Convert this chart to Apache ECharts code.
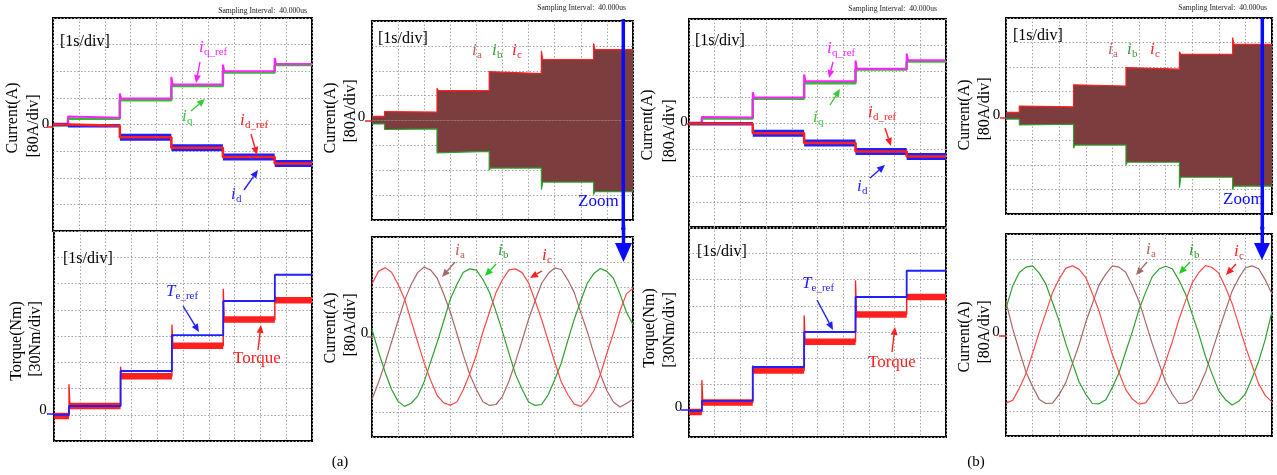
<!DOCTYPE html>
<html><head><meta charset="utf-8">
<script src="https://cdn.jsdelivr.net/npm/echarts@6/dist/echarts.min.js"></script>
<style>html,body{margin:0;padding:0;background:#fff}#c{width:1277px;height:475px}</style>
</head><body><div id="c"></div>
<script>
// ---------------- DATA ----------------
// (a) dq currents [A], step times [s]
const stepTimesA = [0, 0.58, 2.58, 4.57, 6.56, 8.56, 10];
const iqRefA  = [0, 20, 78, 120, 160, 182];
const iqA     = [-2, 17, 73, 116, 156, 179];
const iqPeakA = [0, 24, 93, 143, 180, 200];
const idRefA  = [0, -4, -38, -70, -98, -117];
const idA     = [0, -4, -38, -70, -98, -117];
// (a) torque [Nm]
const teRefA  = [0, 10, 50, 91, 130, 160];
const torqueA = [-1.5, 10, 44, 79, 109, 131];
const torquePeakA = [0, 35, 55, 103, 144, 136];
// (a) phase current envelope [A]
const envTimesA = [0, 0.48, 2.49, 4.49, 6.49, 8.49, 10];
const envUpA     = [13, 27, 96, 151, 196, 228];
const envUpPeakA = [13, 29, 104, 157, 224, 248];
const envLoA     = [-11, -27, -99, -153, -198, -229];
const envLoPeakA = [-11, -29, -104, -160, -222, -238];
// (b) dq currents
const stepTimesB = [0, 0.5, 2.48, 4.48, 6.48, 8.47, 10];
const iqRefB  = [0, 18, 80, 129, 168, 194];
const iqB     = [-2, 15, 76, 123, 165, 190];
const iqPeakB = [0, 20, 96, 150, 193, 214];
const idRefB  = [0, -1, -30, -60, -86, -101];
const idB     = [0, -1, -30, -60, -86, -101];
// (b) torque
const teRefB  = [0, 11.4, 50, 90, 130, 160];
const torqueB = [-1.5, 9.5, 46, 79, 110, 130];
const torquePeakB = [0, 35, 52, 109, 149, 133];
// (b) envelope
const envTimesB = [0, 0.5, 2.54, 4.51, 6.52, 8.52, 10];
const envUpB     = [12, 30, 98, 153, 201, 234];
const envUpPeakB = [12, 32, 102, 158, 210, 256];
const envLoB     = [-10, -27, -95, -151, -200, -229];
const envLoPeakB = [-10, -29, -105, -160, -234, -240];
// zoomed phase currents (time in div)
const sineT = [0,0.25,0.5,0.75,1,1.25,1.5,1.75,2,2.25,2.5,2.75,3,3.25,3.5,3.75,4,4.25,4.5,4.75,5,5.25,5.5,5.75,6,6.25,6.5,6.75,7,7.25,7.5,7.75,8,8.25,8.5,8.75,9,9.25,9.5,9.75,10];
const iaA = [-199,-145,-84,-16,52,118,168,206,224,214,188,137,80,12,-58,-121,-168,-207,-219,-216,-190,-141,-79,-12,57,116,172,203,221,216,183,142,78,17,-53,-119,-172,-208,-224,-213,-199];
const ibA = [24,-48,-112,-168,-206,-222,-212,-189,-143,-79,-16,52,121,168,207,218,214,184,143,82,17,-53,-120,-167,-208,-219,-216,-185,-137,-84,-12,57,116,172,203,219,210,188,138,79,40];
const icA = [170,210,222,207,168,121,52,-16,-83,-139,-188,-211,-218,-208,-168,-117,-57,16,79,142,184,215,218,206,173,116,56,-12,-80,-143,-184,-215,-222,-203,-172,-120,-52,12,84,138,155];
const iaB = [105,20,-50,-117,-163,-204,-217,-216,-188,-151,-90,-30,41,100,159,193,219,215,199,156,107,40,-28,-89,-149,-187,-217,-216,-205,-166,-119,-52,14,77,139,180,213,219,210,174,130];
const ibB = [85,155,198,215,219,196,161,103,44,-28,-89,-149,-188,-217,-218,-205,-166,-119,-53,10,81,135,185,209,218,210,174,130,66,3,-68,-124,-177,-205,-222,-210,-186,-137,-83,-13,75];
const icB = [-215,-207,-169,-123,-58,9,71,135,178,212,219,208,182,131,75,5,-62,-119,-173,-203,-219,-215,-185,-145,-84,-22,49,108,165,198,220,214,196,151,100,32,-36,-96,-155,-192,-212];

// ---------------- STYLE ----------------
const FONT = "'Liberation Serif','Times New Roman',serif";
const MAG='#ff22ff', GRN='#2fbf2f', RED='#ff1f1f', BLU='#1f1fff';
const IA='#a86868', IB='#2f9f2f', IC='#ff4a4a', IALBL='#c0605a', BROWN='#7b3d3d';

const grids = [
  {left:53, top:18, width:259, height:213},
  {left:54, top:231, width:258, height:210},
  {left:372, top:21, width:261, height:199},
  {left:372, top:237, width:261, height:200},
  {left:689, top:19, width:257, height:209},
  {left:689, top:227, width:257, height:210},
  {left:1006, top:18, width:266, height:196},
  {left:1006, top:234, width:266, height:202}
];
const yr = [[-320,320,80],[-30,210,30],[-320,320,80],[-320,320,80],[-320,320,80],[-30,210,30],[-320,320,80],[-320,320,80]];
const split = {show:true, lineStyle:{color:'#a4a4a4', type:[1.5,2], width:1}};

function steps(times, levels, over){
  const p=[];
  for(let i=0;i<levels.length;i++){
    const a=times[i], b=times[i+1];
    if(over && i>0 && over[i]!==levels[i]){ p.push([a, over[i]]); p.push([a+0.05, levels[i]]); }
    else p.push([a, levels[i]]);
    p.push([b, levels[i]]);
  }
  return p;
}
// horizontal pieces only (gaps between them), for thick noise bands
function pieces(times, levels, from, to){
  const p=[];
  for(let i=from;i<to;i++){ p.push([times[i], levels[i]]); p.push([times[i+1], levels[i]]); p.push([times[i+1], '-']); }
  return p;
}
function spikes(times, levels, peaks){
  const p=[];
  for(let i=1;i<levels.length;i++){
    p.push([times[i], levels[i]]); p.push([times[i], peaks[i]]); p.push([times[i]+0.04, levels[i]]); p.push([times[i]+0.04, '-']);
  }
  return p;
}
function line(gi, data, color, width, extra){
  return Object.assign({type:'line', xAxisIndex:gi, yAxisIndex:gi, data, symbol:'none', showSymbol:false,
    connectNulls:false, silent:true, animation:false, lineStyle:{color, width, cap:'butt'}, itemStyle:{color}}, extra||{});
}
const sine = arr => sineT.map((t,i)=>[t, arr[i]]);

const series = [
  line(0, steps(stepTimesA, iqA), GRN, 2.5),
  line(0, steps(stepTimesA, iqRefA, iqPeakA), MAG, 2),
  line(0, steps(stepTimesA, idA), BLU, 1.5),
  line(0, pieces(stepTimesA, idA, 0, 2), BLU, 3.5),
  line(0, pieces(stepTimesA, idA, 2, 6), BLU, 7),
  line(0, steps(stepTimesA, idRefA), RED, 2.5),
  line(1, steps(stepTimesA, torqueA), RED, 1.5),
  line(1, pieces(stepTimesA, torqueA, 0, 6), RED, 6.5),
  line(1, spikes(stepTimesA, torqueA, torquePeakA), RED, 1.3),
  line(1, steps(stepTimesA, teRefA), BLU, 1.8),
  line(2, steps(envTimesA, envUpA, envUpPeakA), RED, 1.2, {areaStyle:{color:BROWN, opacity:1}}),
  line(2, steps(envTimesA, envLoA, envLoPeakA), IB, 1.2, {areaStyle:{color:BROWN, opacity:1}}),
  line(3, sine(iaA), IA, 1.2),
  line(3, sine(ibA), IB, 1.2),
  line(3, sine(icA), IC, 1.2),
  line(4, steps(stepTimesB, iqB), GRN, 2.5),
  line(4, steps(stepTimesB, iqRefB, iqPeakB), MAG, 2),
  line(4, steps(stepTimesB, idB), BLU, 1.5),
  line(4, pieces(stepTimesB, idB, 0, 2), BLU, 3.5),
  line(4, pieces(stepTimesB, idB, 2, 6), BLU, 7),
  line(4, steps(stepTimesB, idRefB), RED, 2.5),
  line(5, steps(stepTimesB, torqueB), RED, 1.5),
  line(5, pieces(stepTimesB, torqueB, 0, 6), RED, 6.5),
  line(5, spikes(stepTimesB, torqueB, torquePeakB), RED, 1.3),
  line(5, steps(stepTimesB, teRefB), BLU, 1.8),
  line(6, steps(envTimesB, envUpB, envUpPeakB), RED, 1.2, {areaStyle:{color:BROWN, opacity:1}}),
  line(6, steps(envTimesB, envLoB, envLoPeakB), IB, 1.2, {areaStyle:{color:BROWN, opacity:1}}),
  line(7, sine(iaB), IA, 1.2),
  line(7, sine(ibB), IB, 1.2),
  line(7, sine(icB), IC, 1.2)
];

// ---------------- ANNOTATIONS ----------------
const G=[];
function txt(x,y,s,color,size,o){
  o=o||{};
  const al=o.align||'left';
  G.push(Object.assign({type:'text', x, y, z:100, silent:true,
    style:{text:s, fill:color, font:(o.italic?'italic ':'')+(o.bold?'bold ':'')+size+'px '+(o.family||FONT),
      align:al, textAlign:al, verticalAlign:'middle', textVerticalAlign:'middle'}}, o.el||{}));
}
function vtxt(x,y,s){ txt(x,y,s,'#000',16,{align:'center', el:{rotation:Math.PI/2}}); }
function sym(x,y,main,sub,color,mw){
  txt(x,y,main,color,17,{italic:true});
  txt(x+(mw||5),y+4,sub,color,11);
}
function seg(x1,y1,x2,y2,color,lw){
  G.push({type:'line', z:100, silent:true, shape:{x1,y1,x2,y2}, style:{stroke:color, lineWidth:lw||1.5}});
}
function arrow(x1,y1,x2,y2,color,lw,L,W){
  lw=lw||1.4; L=L||8; W=W||3.5;
  const dx=x2-x1, dy=y2-y1, len=Math.hypot(dx,dy), ux=dx/len, uy=dy/len;
  const bx=x2-ux*L, by=y2-uy*L, nx=-uy, ny=ux;
  seg(x1,y1,bx,by,color,lw);
  G.push({type:'polygon', z:100, silent:true, shape:{points:[[x2,y2],[bx+nx*W,by+ny*W],[bx-nx*W,by-ny*W]]}, style:{fill:color}});
}
function zero(x,y,t1,t2,ty,color){ txt(x,y,'0','#000',15,{align:'center'}); seg(t1,ty,t2,ty,color,1.5); }
function samp(rx,cy){ txt(rx,cy,'Sampling Interval:  40.000us','#222',9,{align:'right', el:{scaleX:0.85}}); }

// sampling text
samp(307,11); samp(626,8); samp(937,9); samp(1267,8);
// [1s/div]
txt(60,42,'[1s/div]','#000',16); txt(63,259,'[1s/div]','#000',16);
txt(378,39,'[1s/div]','#000',16); txt(695,41,'[1s/div]','#000',16);
txt(697,252,'[1s/div]','#000',16); txt(1013,36,'[1s/div]','#000',16);
// axis names
vtxt(13,118,'Current(A)'); vtxt(34,126,'[80A/div]');
vtxt(17,341,'Torque(Nm)'); vtxt(36,339,'[30Nm/div]');
vtxt(331,118,'Current(A)'); vtxt(351,111,'[80A/div]');
vtxt(331,328,'Current(A)'); vtxt(351,325,'[80A/div]');
vtxt(648,125,'Current(A)'); vtxt(670,131,'[80A/div]');
vtxt(650,328,'Torque(Nm)'); vtxt(670,330,'[30Nm/div]');
vtxt(965,115,'Current(A)'); vtxt(985,109,'[80A/div]');
vtxt(965,337,'Current(A)'); vtxt(985,332,'[80A/div]');
// zero markers
zero(45.5,124,47,53,127,RED); zero(43,410,47,54,414,BLU);
zero(361.5,117,365,372,121,RED); zero(364.5,333,367,372,337,IA);
zero(684,122,686,690,124,RED); zero(678.5,407,681,689,410,BLU);
zero(996.5,115,1000,1006,118,RED); zero(996,332,999,1006,336,RED);
// (a) dq labels
sym(199,48,'i','q_ref',MAG); arrow(200,62,196,83,MAG);
sym(182,117,'i','q','#33cc33'); arrow(191,111,205,99,'#33cc33');
sym(240,121,'i','d_ref',RED); arrow(251,134,257,155,RED);
sym(231,195,'i','d',BLU); arrow(244,190,258,170,BLU);
// (a) torque labels
sym(166,292,'T','e_ref',BLU,9.5); arrow(183,306,199,332,BLU);
txt(233,359,'Torque',RED,17); arrow(258,350,261,325,RED);
// (a) envelope
sym(472,51,'i','a',IALBL); sym(492,51,'i','b',IB); sym(512,51,'i','c',RED);
seg(623.3,19,623.3,226,'#0a0aff',3.5);
G.push({type:'circle', z:100, silent:true, shape:{cx:623.3, cy:228.5, r:2.2}, style:{fill:'#0a0aff'}});
txt(578,202,'Zoom','#0a0aff',17);
seg(623.5,225,623.5,246,'#0a0aff',3.5);
G.push({type:'polygon', z:100, silent:true, shape:{points:[[615,243],[632,243],[623.5,262]]}, style:{fill:'#0a0aff'}});
// (a) sines
sym(455,251,'i','a',IALBL); arrow(455,262,442,277,IA);
sym(498,251,'i','b',IB); arrow(496,264,485,276,'#22cc22');
sym(542,256,'i','c',RED); arrow(542,271,530,278,RED);
// (b) dq
sym(827,49,'i','q_ref',MAG); arrow(833,62,829,78,MAG);
sym(813,118,'i','q','#33cc33'); arrow(830,105,840,89,'#33cc33');
sym(868,113,'i','d_ref',RED); arrow(885,128,891,146,RED);
sym(857,187,'i','d',BLU); arrow(870,178,885,165,BLU);
// (b) torque
sym(802,284,'T','e_ref',BLU,9.5); arrow(817,300,833,330,BLU);
txt(868,363,'Torque',RED,17); arrow(892,352,895,327,RED);
// (b) envelope
sym(1108,50,'i','a',IALBL); sym(1127,50,'i','b',IB); sym(1150,50,'i','c',RED);
seg(1262.3,18,1262.3,225,'#0a0aff',3.5);
G.push({type:'circle', z:100, silent:true, shape:{cx:1262.3, cy:228, r:2.2}, style:{fill:'#0a0aff'}});
txt(1223,200,'Zoom','#0a0aff',17);
seg(1262.3,225,1262.3,245,'#0a0aff',3.5);
G.push({type:'polygon', z:100, silent:true, shape:{points:[[1254,243],[1270,243],[1262,260]]}, style:{fill:'#0a0aff'}});
// (b) sines
sym(1146,250,'i','a',IALBL); arrow(1147,262,1136,275,IA);
sym(1189,251,'i','b',IB); arrow(1190,262,1179,274,'#22cc22');
sym(1234,252,'i','c',RED); arrow(1236,264,1226,275,RED);
// captions
txt(340,462,'(a)','#000',15,{align:'center'}); txt(976,462,'(b)','#000',15,{align:'center'});

// ---------------- CHART ----------------
const chart = echarts.init(document.getElementById('c'), null, {renderer:'canvas', width:1277, height:475});
chart.setOption({
  animation:false,
  backgroundColor:'#fff',
  grid: grids.map(g=>Object.assign({show:true, borderColor:'#000', borderWidth:2, backgroundColor:'transparent', containLabel:false}, g)),
  xAxis: grids.map((g,i)=>({gridIndex:i, type:'value', min:0, max:10, interval:1,
    axisLine:{show:false}, axisTick:{show:false}, axisLabel:{show:false}, splitLine:split})),
  yAxis: grids.map((g,i)=>({gridIndex:i, type:'value', min:yr[i][0], max:yr[i][1], interval:yr[i][2],
    axisLine:{show:false}, axisTick:{show:false}, axisLabel:{show:false}, splitLine:split})),
  series,
  graphic: G
});
</script>
</body></html>
